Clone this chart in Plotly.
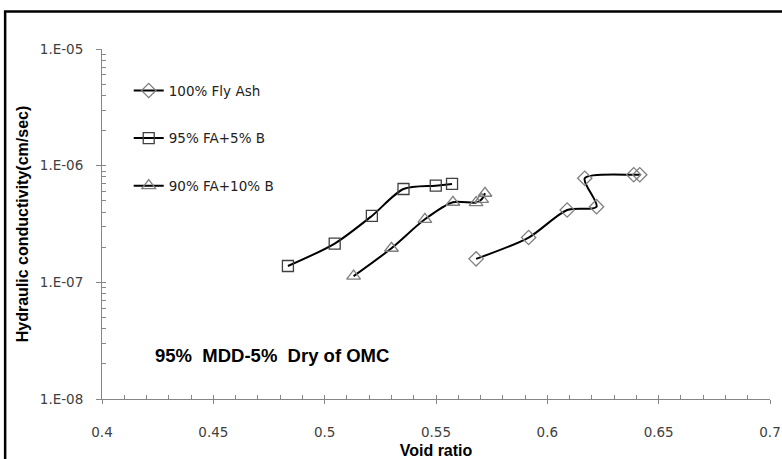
import math
import plotly.graph_objects as go

# Void ratio vs hydraulic conductivity for the three mixes
fa100_e = [0.568, 0.5916, 0.6089, 0.6221, 0.6168, 0.6388, 0.6415]
fa100_k = [1.59e-7, 2.42e-7, 4.17e-7, 4.45e-7, 7.80e-7, 8.35e-7, 8.35e-7]

fa95_e = [0.4835, 0.5045, 0.5212, 0.5354, 0.5499, 0.5572]
fa95_k = [1.38e-7, 2.15e-7, 3.71e-7, 6.31e-7, 6.74e-7, 6.97e-7]

fa90_e = [0.513, 0.530, 0.545, 0.5576, 0.568, 0.5705, 0.572]
fa90_k = [1.13e-7, 1.96e-7, 3.47e-7, 4.86e-7, 4.82e-7, 5.15e-7, 5.80e-7]

series_names = ["100% Fly Ash", "95% FA+5% B", "90% FA+10% B"]
x_ticks = [0.4, 0.45, 0.5, 0.55, 0.6, 0.65, 0.7]
x_tick_text = ["0.4", "0.45", "0.5", "0.55", "0.6", "0.65", "0.7"]
y_ticks = [1e-8, 1e-7, 1e-6, 1e-5]
y_tick_text = ["1.E-08", "1.E-07", "1.E-06", "1.E-05"]
note_text = "95%\u00a0\u00a0MDD-5%\u00a0\u00a0Dry of OMC"
note_pos = (0.4227, 2.35e-8)

AXIS_GRAY = "#868686"
LABEL_FONT = "DejaVu Sans, Verdana, sans-serif"
TITLE_FONT = "Liberation Sans, Arial, sans-serif"

fig = go.Figure()

series = [
    (fa100_e, fa100_k, series_names[0], "diamond-open", "#7f7f7f", 11),
    (fa95_e, fa95_k, series_names[1], "square-open", "#404040", 11),
    (fa90_e, fa90_k, series_names[2], "triangle-up-open", "#7f7f7f", 12),
]
for i, (xs, ys, name, sym, mcol, msize) in enumerate(series):
    fig.add_trace(go.Scatter(
        x=xs, y=ys, name=name, mode="lines+markers",
        legendgroup=f"g{i}",
        line=dict(color="black", width=2, shape="spline", smoothing=0.8),
        marker=dict(symbol=sym, size=msize, color=mcol,
                    line=dict(color=mcol, width=1.3)),
        xaxis="x", yaxis="y",
    ))

# invisible trace that anchors the overlay axes carrying the minor ticks
fig.add_trace(go.Scatter(x=[0.4], y=[1e-8], xaxis="x2", yaxis="y2",
                         mode="markers", marker=dict(opacity=0),
                         showlegend=False, hoverinfo="skip"))

fig.update_layout(
    width=782, height=459,
    margin=dict(l=102, r=12, t=49, b=60),
    paper_bgcolor="white", plot_bgcolor="white",
    font=dict(family=LABEL_FONT, size=13.5, color="#404040"),
    showlegend=True,
    legend=dict(
        x=0.04, y=0.925, xanchor="left", yanchor="top",
        traceorder="grouped", tracegroupgap=27,
        bgcolor="rgba(0,0,0,0)",
        font=dict(family=LABEL_FONT, size=13.5, color="#222222"),
        itemwidth=30,
    ),
    xaxis=dict(
        range=[0.4, 0.7], tickvals=x_ticks, ticktext=x_tick_text,
        automargin=False,
        showgrid=False, zeroline=False, showline=True,
        linecolor=AXIS_GRAY, linewidth=1,
        ticks="outside", ticklen=4, tickcolor=AXIS_GRAY,
        ticklabelstandoff=17,
        tickfont=dict(family=LABEL_FONT, size=13.5, color="#404040"),
        title=dict(text="<b>Void ratio</b>", standoff=8,
                   font=dict(family=TITLE_FONT, size=16, color="black")),
    ),
    yaxis=dict(
        type="log", range=[-8, -5], tickvals=y_ticks, ticktext=y_tick_text,
        automargin=False,
        showgrid=False, zeroline=False, showline=True,
        linecolor=AXIS_GRAY, linewidth=1,
        ticks="outside", ticklen=5, tickcolor=AXIS_GRAY,
        ticklabelstandoff=10,
        tickfont=dict(family=LABEL_FONT, size=13.5, color="#404040"),
        title=dict(text="<b>Hydraulic conductivity(cm/sec)</b>", standoff=7,
                   font=dict(family=TITLE_FONT, size=16, color="black")),
    ),
    xaxis2=dict(
        overlaying="x", range=[0.4, 0.7], dtick=0.01, tick0=0.4,
        automargin=False,
        showticklabels=False, showgrid=False, zeroline=False,
        ticks="inside", ticklen=4, tickcolor=AXIS_GRAY, side="bottom",
    ),
    yaxis2=dict(
        overlaying="y", type="log", range=[-8, -5], dtick="D1",
        automargin=False,
        showticklabels=False, showgrid=False, zeroline=False,
        ticks="inside", ticklen=4, tickcolor=AXIS_GRAY, side="left",
    ),
    annotations=[dict(
        text=f"<b>{note_text}</b>", xref="x", yref="y",
        x=note_pos[0], y=math.log10(note_pos[1]),
        xanchor="left", yanchor="middle",
        showarrow=False, font=dict(family=TITLE_FONT, size=18.5, color="black"),
    )],
    shapes=[dict(
        type="rect", xref="paper", yref="paper",
        x0=-0.145, x1=1.2, y0=-0.5, y1=1.107,
        line=dict(color="black", width=2.5), fillcolor="rgba(0,0,0,0)",
        layer="above",
    )],
)

fig.write_html("out.html")
